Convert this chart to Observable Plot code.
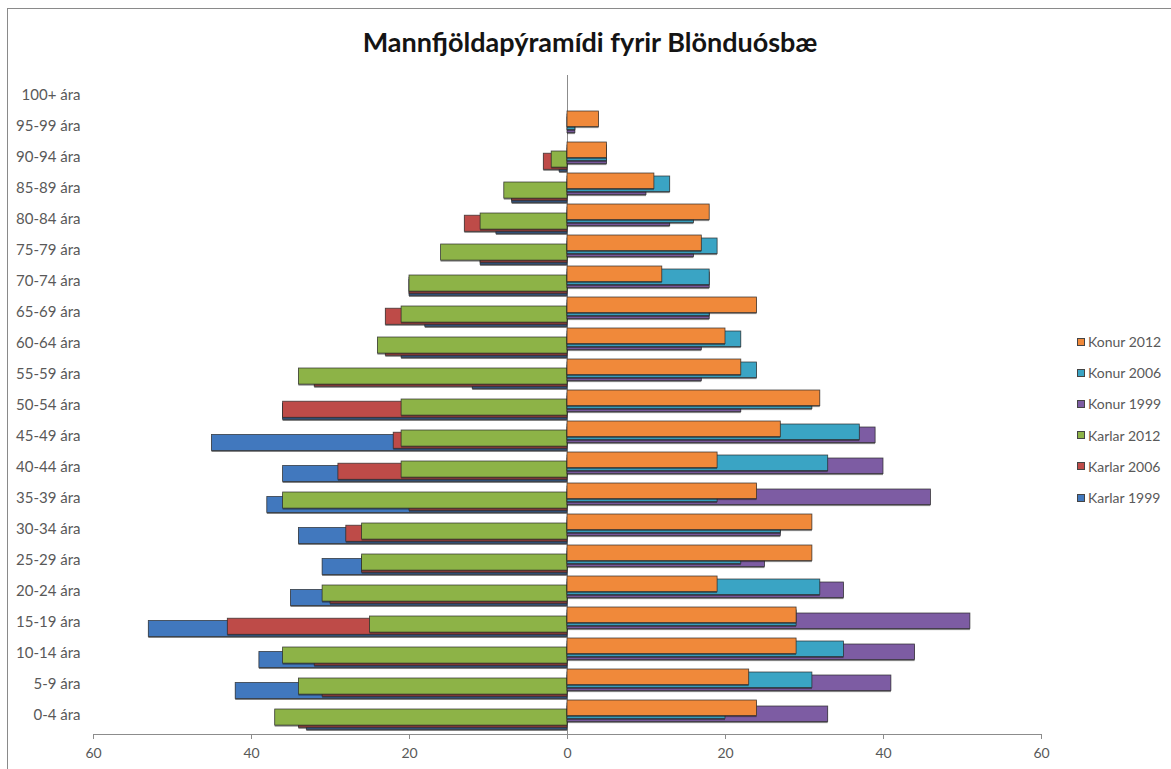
<!DOCTYPE html>
<html>
<head>
<meta charset="utf-8">
<script src="https://cdn.jsdelivr.net/npm/d3@7"></script>
<script src="https://cdn.jsdelivr.net/npm/@observablehq/plot@0.6"></script>
<style>
  body { margin: 0; background: #fff; font-family: Lato, sans-serif; }
  #wrap { position: relative; width: 1171px; height: 769px; overflow: hidden; background: #fff; }
  #frame { position: absolute; left: 7px; top: 8px; width: 1180px; height: 780px;
           border-left: 1px solid #8a8a8a; border-top: 1px solid #8a8a8a; pointer-events: none; }
  #title { position: absolute; left: 10px; width: 1160px; top: 25px; text-align: center;
           font: bold 27px Lato, sans-serif; color: #141414; }
  #legend { position: absolute; left: 1077px; top: 326px; font: 14px Lato, sans-serif; color: #595959; }
  .item { height: 31.2px; display: flex; align-items: center; white-space: nowrap; }
  .sw { width: 8px; height: 8px; margin-right: 3px; border: 1px solid #444; box-sizing: border-box; }
  #chart { position: absolute; left: 0; top: 0; }
</style>
</head>
<body>
<div id="wrap">
  <div id="chart"></div>
  <div id="title">Mannfjöldapýramídi fyrir Blönduósbæ</div>
  <div id="legend"></div>
  <div id="frame"></div>
</div>
<script>
// Age groups, top to bottom
const ages = ["100+ ára","95-99 ára","90-94 ára","85-89 ára","80-84 ára","75-79 ára","70-74 ára",
  "65-69 ára","60-64 ára","55-59 ára","50-54 ára","45-49 ára","40-44 ára","35-39 ára","30-34 ára",
  "25-29 ára","20-24 ára","15-19 ára","10-14 ára","5-9 ára","0-4 ára"];

const karlar1999 = [0,0,1,7,9,11,20,18,21,12,36,45,36,38,34,31,35,53,39,42,33];
const karlar2006 = [0,0,3,7,13,11,20,23,23,32,36,22,29,20,28,26,30,43,32,31,34];
const karlar2012 = [0,0,2,8,11,16,20,21,24,34,21,21,21,36,26,26,31,25,36,34,37];
const konur1999  = [0,1,5,10,13,16,18,18,17,17,22,39,40,46,27,25,35,51,44,41,33];
const konur2006  = [0,1,5,13,16,19,18,18,22,24,31,37,33,19,27,22,32,29,35,31,20];
const konur2012  = [0,4,5,11,18,17,12,24,20,22,32,27,19,24,31,31,19,29,29,23,24];

const xTicks = [-60,-40,-20,0,20,40,60];

const seriesNames  = ["Karlar 1999","Karlar 2006","Karlar 2012","Konur 1999","Konur 2006","Konur 2012"];
const seriesValues = [karlar1999, karlar2006, karlar2012, konur1999, konur2006, konur2012];
const seriesSign   = [-1,-1,-1,1,1,1];
const seriesColors = ["#4178be","#be4b48","#8db347","#7d5ca3","#3aa4c4","#f0893a"];
// vertical placement within each age band (px)
const seriesInsetTop    = [14.4, 12.2, 10.0, 7.0, 4.0, 1.0];
const seriesInsetBottom = [0.5, 2.7, 4.9, 8.4, 11.4, 14.4];

const marks = [
  Plot.ruleX([0], {stroke: "#8c8c8c"})
];
seriesNames.forEach((name, s) => {
  const rows = ages.map((a, i) => ({age: a, value: seriesSign[s] * seriesValues[s][i], series: name}));
  marks.push(Plot.barX(rows, {
    x: "value", y: "age", fill: "#1e1e1e", fillOpacity: 0.55, dy: 1.5,
    insetTop: seriesInsetTop[s], insetBottom: seriesInsetBottom[s]
  }));
  marks.push(Plot.barX(rows, {
    x: "value", y: "age", fill: seriesColors[s], stroke: "#2a2a2a", strokeWidth: 0.8, strokeOpacity: 0.85,
    insetTop: seriesInsetTop[s], insetBottom: seriesInsetBottom[s]
  }));
});
marks.push(Plot.axisY({anchor: "left", tickSize: 0, tickPadding: 13, fontSize: 15, label: null}));
marks.push(Plot.axisX({anchor: "bottom", ticks: xTicks, tickFormat: d => Math.abs(d), tickSize: 5, tickPadding: 9, fontSize: 14, stroke: "#8c8c8c", label: null}));
marks.push(Plot.frame({anchor: "bottom", stroke: "#8c8c8c"}));

const chart = Plot.plot({
  width: 1171,
  height: 769,
  marginLeft: 93,
  marginRight: 130,
  marginTop: 75,
  marginBottom: 35,
  x: {domain: [-60, 60], label: null},
  y: {domain: ages, padding: 0, label: null},
  style: {fontFamily: "Lato, sans-serif", color: "#595959", background: "transparent"},
  marks
});
document.getElementById("chart").appendChild(chart);

// legend (reverse order, as in the reference)
const legend = document.getElementById("legend");
for (let s = seriesNames.length - 1; s >= 0; s--) {
  const item = document.createElement("div");
  item.className = "item";
  const sw = document.createElement("span");
  sw.className = "sw";
  sw.style.background = seriesColors[s];
  item.appendChild(sw);
  item.appendChild(document.createTextNode(seriesNames[s]));
  legend.appendChild(item);
}
</script>
</body>
</html>
